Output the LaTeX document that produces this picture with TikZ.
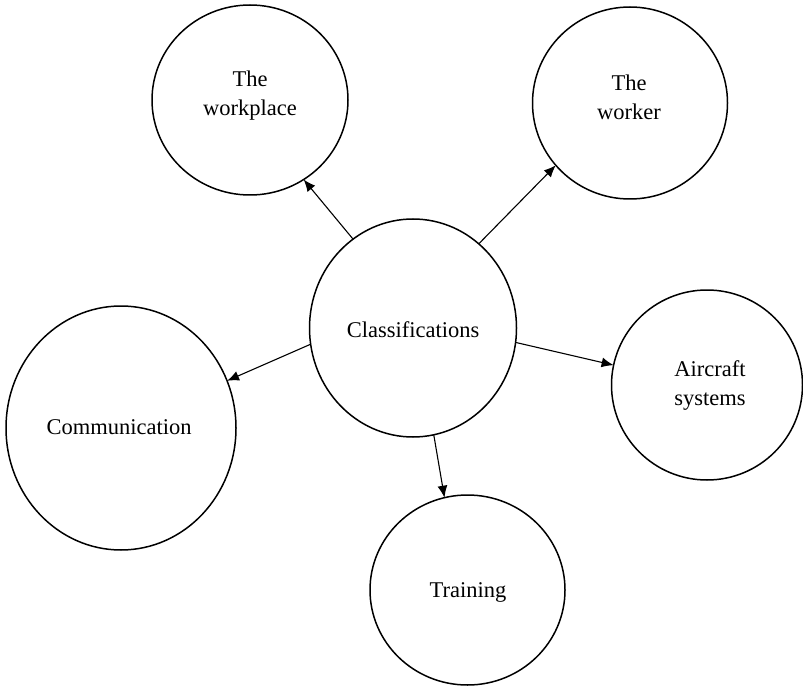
\documentclass[tikz,border=0pt]{standalone}
\usepackage{fontspec}
\setmainfont{Liberation Serif}
\usetikzlibrary{shapes.geometric,arrows.meta}
\begin{document}
\begin{tikzpicture}[x=1pt,y=-1pt,
  bubble/.style={draw, ellipse, line width=1.5pt, inner sep=0pt, outer sep=0pt},
  lbl/.style={align=center, font=\fontsize{22.5}{29}\selectfont, inner sep=0pt},
  link/.style={line width=1.1pt, -{Latex[length=12pt,width=10pt]}}]
\useasboundingbox (0,0) rectangle (803,687);
\node[bubble, minimum width=196pt, minimum height=190pt] (wp) at (250,100) {};
\node[bubble, minimum width=195pt, minimum height=192pt] (wk) at (630,103) {};
\node[bubble, minimum width=207pt, minimum height=218pt] (cls) at (413,328) {};
\node[bubble, minimum width=230pt, minimum height=244pt] (com) at (121,428) {};
\node[bubble, minimum width=191pt, minimum height=190pt] (air) at (707,385) {};
\node[bubble, minimum width=195pt, minimum height=190pt] (trn) at (467.5,590) {};
\node[lbl] (wpt) at (250,96) {The\\workplace};
\node[lbl] (wkt) at (629,97) {The\\worker};
\node[lbl] (clst) at (413,330) {Classifications};
\node[lbl] (comt) at (119,427) {Communication};
\node[lbl] (airt) at (710,386) {Aircraft\\systems};
\node[lbl] (trnt) at (468,592) {Training};
\draw[link] (cls.124) -- (wp.304.5);
\draw[link] (cls.52.6) -- (wk.220.6);
\draw[link] (cls.189.9) -- (com.24.4);
\draw[link] (cls.-8.7) -- (air.168.5);
\draw[link] (cls.-79.2) -- (trn.104);
\end{tikzpicture}
\end{document}
